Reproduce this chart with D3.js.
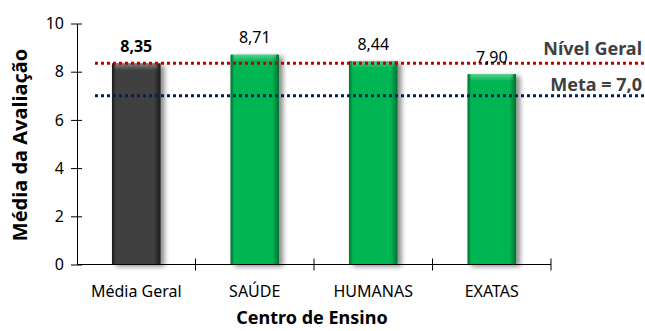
<!DOCTYPE html>
<html>
<head>
<meta charset="utf-8">
<script src="https://cdn.jsdelivr.net/npm/d3@7"></script>
<style>
  body { margin: 0; background: #fff; }
  text { font-family: "Noto Sans", sans-serif; }
</style>
</head>
<body>
<svg></svg>
<script>
const WIDTH = 645;
const HEIGHT = 331;

// data
const categories = ['Média Geral', 'SAÚDE', 'HUMANAS', 'EXATAS'];
const values = [8.35, 8.71, 8.44, 7.90];
const valueLabels = ['8,35', '8,71', '8,44', '7,90'];
const yTicks = [0, 2, 4, 6, 8, 10];
const refValues = [8.35, 7.0];
const refLabels = ['Nível Geral', 'Meta = 7,0'];
const refColors = ['#c00000', '#002060'];

const svg = d3.select('svg').attr('width', WIDTH).attr('height', HEIGHT);

const x = d3.scaleBand().domain(categories).range([77, 551]).paddingInner(0.59).paddingOuter(0.295);
const y = d3.scaleLinear().domain([0, 10]).range([264.5, 23.5]);

const defs = svg.append('defs');
function barGradient(id, mid, dark) {
  const g = defs.append('linearGradient').attr('id', id).attr('x1', 0).attr('x2', 1).attr('y1', 0).attr('y2', 0);
  g.append('stop').attr('offset', '0%').attr('stop-color', dark);
  g.append('stop').attr('offset', '8%').attr('stop-color', mid);
  g.append('stop').attr('offset', '86%').attr('stop-color', mid);
  g.append('stop').attr('offset', '100%').attr('stop-color', dark);
}
barGradient('gGray', '#404040', '#1a1a1a');
barGradient('gGreen', '#00b652', '#00702f');
const topGrad = defs.append('linearGradient').attr('id', 'gTop').attr('x1', 0).attr('x2', 0).attr('y1', 0).attr('y2', 1);
topGrad.append('stop').attr('offset', '0%').attr('stop-color', '#fff').attr('stop-opacity', 0.35);
topGrad.append('stop').attr('offset', '100%').attr('stop-color', '#fff').attr('stop-opacity', 0);
const shadow = defs.append('filter').attr('id', 'shadow').attr('x', '-20%').attr('y', '-10%').attr('width', '160%').attr('height', '130%');
shadow.append('feDropShadow').attr('dx', 4).attr('dy', 2).attr('stdDeviation', 2.5).attr('flood-color', '#000').attr('flood-opacity', 0.45);

// bars
const bars = svg.append('g');
bars.selectAll('rect.bar')
  .data(categories)
  .enter()
  .append('rect')
  .attr('class', 'bar')
  .attr('x', d => x(d))
  .attr('y', (d, i) => y(values[i]))
  .attr('width', x.bandwidth())
  .attr('height', (d, i) => y(0) - y(values[i]))
  .attr('fill', (d, i) => i === 0 ? 'url(#gGray)' : 'url(#gGreen)')
  .attr('filter', 'url(#shadow)');
bars.selectAll('rect.bevel')
  .data(categories)
  .enter()
  .append('rect')
  .attr('class', 'bevel')
  .attr('x', d => x(d) + 3)
  .attr('y', (d, i) => y(values[i]))
  .attr('width', x.bandwidth() - 6)
  .attr('height', 7)
  .attr('fill', 'url(#gTop)');

// reference lines
svg.selectAll('line.ref')
  .data(refValues)
  .enter()
  .append('line')
  .attr('class', 'ref')
  .attr('x1', 95)
  .attr('x2', WIDTH)
  .attr('y1', d => y(d))
  .attr('y2', d => y(d))
  .attr('stroke', (d, i) => refColors[i])
  .attr('stroke-width', 3)
  .attr('stroke-dasharray', '3,3');

svg.selectAll('text.ref')
  .data(refLabels)
  .enter()
  .append('text')
  .attr('class', 'ref')
  .attr('x', 642)
  .attr('y', (d, i) => y(refValues[i]) - (i === 0 ? 8 : 5))
  .attr('text-anchor', 'end')
  .attr('font-size', 18)
  .attr('font-weight', 'bold')
  .attr('fill', '#404040')
  .text(d => d);

// value labels
svg.selectAll('text.val')
  .data(categories)
  .enter()
  .append('text')
  .attr('class', 'val')
  .attr('x', d => x(d) + x.bandwidth() / 2)
  .attr('y', (d, i) => y(values[i]) - 11.5)
  .attr('text-anchor', 'middle')
  .attr('font-size', 16)
  .attr('font-weight', (d, i) => i === 0 ? 'bold' : 'normal')
  .attr('fill', '#000')
  .text((d, i) => valueLabels[i]);

// y axis
const yAxis = svg.append('g').attr('transform', 'translate(77,0)')
  .call(d3.axisLeft(y).tickValues(yTicks).tickSize(6).tickSizeOuter(0));
yAxis.selectAll('.tick line').attr('x2', 5).attr('x1', -6);
yAxis.selectAll('text').attr('font-size', 16).attr('fill', '#000').attr('x', -13);
yAxis.select('.domain').attr('stroke', '#000');

// x axis
const xAxis = svg.append('g').attr('transform', `translate(0,${y(0)})`)
  .call(d3.axisBottom(x).tickSize(0).tickSizeOuter(0));
xAxis.selectAll('.tick text').attr('font-size', 16).attr('fill', '#000').attr('y', 32).attr('dy', 0);
xAxis.select('.domain').attr('d', 'M77,0H551').attr('stroke', '#000');
const bounds = categories.map(c => x(c) - x.step() * x.paddingInner() / 2).concat([551]);
xAxis.selectAll('line.sep')
  .data(bounds.slice(1))
  .enter()
  .append('line')
  .attr('class', 'sep')
  .attr('x1', d => d).attr('x2', d => d)
  .attr('y1', -6).attr('y2', 6)
  .attr('stroke', '#000');

// axis titles
svg.append('text')
  .attr('transform', 'translate(27,145) rotate(-90)')
  .attr('text-anchor', 'middle')
  .attr('font-family', '"Liberation Sans", Arial, sans-serif')
  .attr('font-size', 20)
  .attr('font-weight', 'bold')
  .text('Média da Avaliação');

svg.append('text')
  .attr('x', 312)
  .attr('y', 324)
  .attr('text-anchor', 'middle')
  .attr('font-size', 18)
  .attr('font-weight', 'bold')
  .text('Centro de Ensino');
</script>
</body>
</html>
